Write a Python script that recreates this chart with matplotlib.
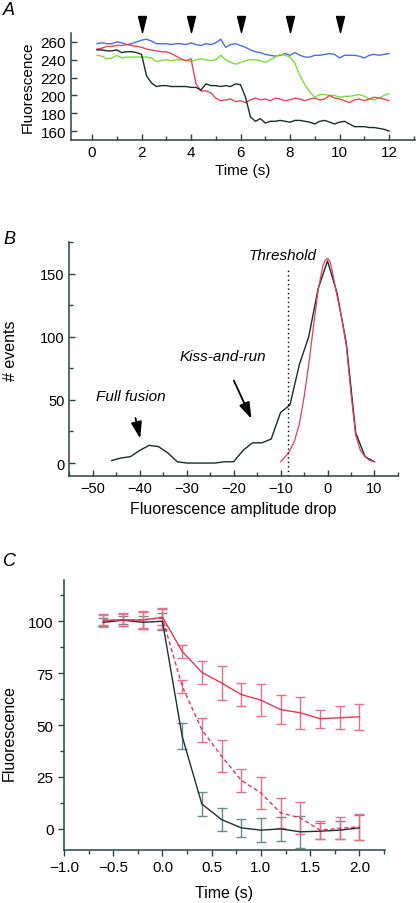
import numpy as np
import matplotlib
matplotlib.use('Agg')
import matplotlib.pyplot as plt
from matplotlib.ticker import MultipleLocator

plt.rcParams['font.family'] = ['Liberation Sans', 'DejaVu Sans']

# ---- panel A: single vesicle traces ----
trace_time = np.round(np.arange(1, 61) * 0.2, 1)
trace_blue = [258, 259, 258, 258, 260, 259, 257, 258, 260, 262,
              263, 261, 258, 258, 258, 257, 258, 258, 257, 259,
              257, 256, 258, 257, 259, 263, 254, 257, 258, 256,
              254, 251, 249, 248, 246, 245, 244, 245, 247, 245,
              248, 245, 243, 243, 245, 245, 246, 247, 246, 242,
              245, 245, 245, 244, 242, 245, 246, 245, 246, 247]
trace_red = [252, 253, 255, 255, 256, 256, 257, 256, 255, 254,
             252, 251, 250, 249, 249, 247, 244, 241, 239, 241,
             213, 205, 205, 203, 197, 194, 195, 196, 193, 194,
             192, 195, 197, 195, 196, 194, 197, 196, 194, 195,
             197, 196, 194, 196, 197, 195, 196, 200, 197, 196,
             194, 192, 195, 196, 194, 196, 198, 197, 196, 194]
trace_green = [245, 244, 241, 242, 245, 242, 243, 243, 243, 243,
               243, 242, 238, 239, 240, 239, 240, 240, 239, 238,
               240, 241, 240, 239, 240, 245, 240, 237, 235, 237,
               239, 240, 240, 239, 237, 240, 243, 246, 245, 243,
               236, 222, 212, 204, 198, 201, 201, 200, 200, 198,
               199, 199, 200, 201, 199, 196, 195, 197, 200, 202]
trace_black = [251, 251, 250, 250, 251, 248, 249, 249, 248, 246,
               222, 214, 210, 211, 211, 210, 210, 210, 210, 209,
               209, 206, 213, 211, 211, 210, 211, 210, 213, 212,
               198, 176, 171, 174, 169, 171, 171, 172, 171, 170,
               172, 172, 171, 170, 168, 171, 172, 170, 168, 170,
               171, 168, 165, 165, 165, 164, 164, 163, 162, 160]
stim_times = [2, 4, 6, 8, 10]

# ---- panel B: amplitude histogram ----
drop_bins = [-46, -44, -42, -40, -38, -36, -34, -32, -30, -28, -26, -24, -22, -20, -18,
             -16, -14, -12, -10, -8, -6, -4, -2, 0, 2, 4, 6, 8, 10]
drop_counts = [2, 4, 5, 10, 14, 13, 8, 1, 0, 0, 0, 0, 1, 1, 10,
               16, 16, 19, 40, 46, 78, 100, 138, 160, 135, 95, 24, 5, 1]
fit_x = [-10, -9, -8, -7, -6, -5, -4, -3, -2, -1, -0.5, 0, 0.5, 1, 2, 3, 4, 5, 6, 7, 8, 9, 10]
fit_y = [1, 5, 10, 18, 31, 52, 78, 108, 137, 156, 160.5, 162, 160, 152, 133, 115, 93, 55, 22, 10, 5, 2, 1]
threshold = -8.4

# ---- panel C: averaged time courses ----
avg_time = [-0.6, -0.4, -0.2, 0.0, 0.2, 0.4, 0.6, 0.8, 1.0, 1.2, 1.4, 1.6, 1.8, 2.0]
ff_mean = [99.5, 100.5, 99.5, 100, 44.6, 12, 4.5, 0.5, -0.6, 0, -1.4, -1.1, -0.6, 0.5]
ff_err = [2, 2, 3, 4, 6.3, 5.6, 5.5, 4.4, 5.7, 5.6, 7.6, 4, 4.5, 6]
kr_mean = [100.3, 100.8, 100.5, 102, 85.5, 75.4, 70.3, 64.7, 62, 57.5, 55.9, 53.1, 53.5, 54]
kr_err = [3, 3, 4, 4, 3, 5.7, 8, 5.6, 7.6, 7.1, 7.6, 4.4, 5.5, 6.3]
kr2_mean = [100.5, 100.5, 100.8, 101.5, 68.7, 47.8, 35, 23.4, 17.3, 7.7, 5.3, -0.6, 0.3, 1]
kr2_err = [2.5, 3, 4, 5, 3.1, 5.8, 7.7, 5.6, 7.7, 7.2, 7.6, 4.3, 5.2, 6.2]

spine_col = '#2d4242'
fig = plt.figure(figsize=(4.16, 9.04), dpi=100)


def style(ax, tdir):
    for s in ['top', 'right']:
        ax.spines[s].set_visible(False)
    for s in ['left', 'bottom']:
        ax.spines[s].set_color(spine_col)
        ax.spines[s].set_linewidth(1.1)
    ax.tick_params(which='both', direction=tdir, color=spine_col, width=1)
    ax.tick_params(which='major', length=4)
    ax.tick_params(which='minor', length=3)


# A
axA = fig.add_axes([0.1707, 0.844, 0.827, 0.1184])
axA.plot(trace_time, trace_blue, color='#4a6fd6', lw=1)
axA.plot(trace_time, trace_green, color='#7ddc3c', lw=1)
axA.plot(trace_time, trace_red, color='#e04a5c', lw=1)
axA.plot(trace_time, trace_black, color='#1f2b2b', lw=1)
tri = [(-0.5, 1), (0.5, 1), (0, -1), (-0.5, 1)]
axA.plot(stim_times, [1.084] * len(stim_times), ls='none', marker=tri, ms=11.5,
         color='black', transform=axA.get_xaxis_transform(), clip_on=False)
axA.set_xlim(-0.85, 13.05)
axA.set_ylim(150, 270)
axA.set_xticks([0, 2, 4, 6, 8, 10, 12])
axA.xaxis.set_minor_locator(MultipleLocator(1))
axA.set_yticks([160, 180, 200, 220, 240, 260])
style(axA, 'in')
axA.tick_params(labelsize=11)
axA.set_xlabel('Time (s)', fontsize=11, labelpad=3)
axA.set_ylabel('Fluorescence', fontsize=11, labelpad=4)
fig.text(0.008, 0.998, 'A', fontsize=13, style='italic', va='top')

# B
axB = fig.add_axes([0.1666, 0.4727, 0.79, 0.2585])
axB.plot(drop_bins, drop_counts, color='#1c2a2a', lw=1)
axB.plot(fit_x, fit_y, color='#e2405e', lw=0.9)
axB.plot([threshold, threshold], [-10, 153], color='black', ls=(0, (1, 2.2)), lw=1)
axB.text(threshold - 1.2, 165, 'Threshold', style='italic', fontsize=11, ha='center', va='center')
axB.annotate('Kiss-and-run', xy=(-16.2, 35), xytext=(-22.4, 85), style='italic', fontsize=11,
             ha='center', va='center',
             arrowprops=dict(arrowstyle='-|>,head_length=0.9,head_width=0.3', color='black', lw=1.3,
                             shrinkA=12, shrinkB=0))
axB.annotate('Full fusion', xy=(-39.9, 19.5), xytext=(-42, 53), style='italic', fontsize=11,
             ha='center', va='center',
             arrowprops=dict(arrowstyle='-|>,head_length=0.9,head_width=0.3', color='black', lw=1.3,
                             shrinkA=9, shrinkB=0))
axB.set_xlim(-55, 15)
axB.set_ylim(-10, 175)
axB.set_xticks([-50, -40, -30, -20, -10, 0, 10])
axB.xaxis.set_minor_locator(MultipleLocator(5))
axB.set_yticks([0, 50, 100, 150])
axB.yaxis.set_minor_locator(MultipleLocator(25))
style(axB, 'in')
axB.tick_params(labelsize=10.5)
axB.set_xlabel('Fluorescence amplitude drop', fontsize=11.5, labelpad=5)
axB.set_ylabel('# events', fontsize=11.5)
axB.yaxis.set_label_coords(-0.155, 0.54)
fig.text(0.008, 0.744, 'B', fontsize=13, style='italic', va='top')

# C
axC = fig.add_axes([0.1538, 0.059, 0.7717, 0.2986])
axC.errorbar(avg_time, ff_mean, yerr=ff_err, color='#1f3030', ecolor='#6a8c8c',
             lw=1, elinewidth=1, capsize=3.8, capthick=1)
axC.errorbar(avg_time, kr2_mean, yerr=kr2_err, color='#de3a54', ecolor='#e8708c',
             lw=1, ls=(0, (3, 2)), elinewidth=1, capsize=3.8, capthick=1)
axC.errorbar(avg_time, kr_mean, yerr=kr_err, color='#de3a54', ecolor='#e8708c',
             lw=1, elinewidth=1, capsize=3.8, capthick=1)
axC.set_xlim(-1.0, 2.26)
axC.set_ylim(-10, 120)
axC.set_xticks([-1.0, -0.5, 0.0, 0.5, 1.0, 1.5, 2.0])
axC.xaxis.set_minor_locator(MultipleLocator(0.25))
axC.set_yticks([0, 25, 50, 75, 100])
axC.yaxis.set_minor_locator(MultipleLocator(12.5))
axC.xaxis.set_major_formatter(matplotlib.ticker.FuncFormatter(lambda v, p: f'{v:.1f}'.replace('-', '\u2212')))
style(axC, 'out')
axC.tick_params(labelsize=11)
axC.set_xlabel('Time (s)', fontsize=11.5, labelpad=8)
axC.set_ylabel('Fluorescence', fontsize=11.5)
axC.yaxis.set_label_coords(-0.148, 0.436)
fig.text(0.008, 0.388, 'C', fontsize=13, style='italic', va='top')

fig.savefig('out.png', dpi=100)
